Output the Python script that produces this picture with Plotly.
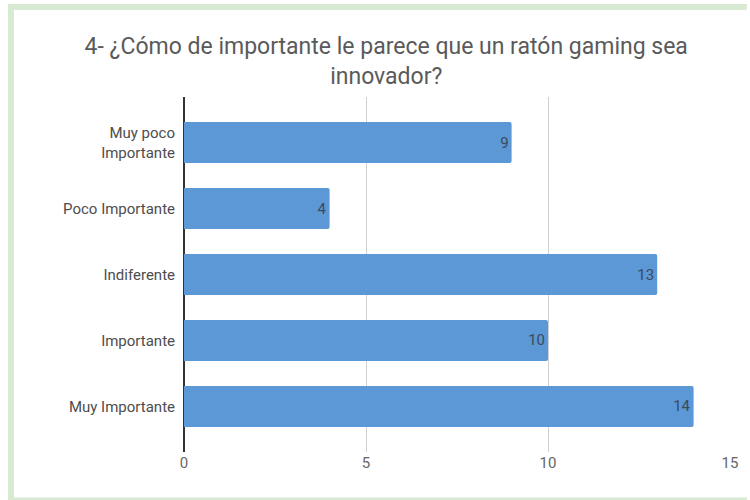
import plotly.graph_objects as go

categories = ["Muy poco<br>Importante", "Poco Importante", "Indiferente", "Importante", "Muy Importante"]
values = [9, 4, 13, 10, 14]
x_ticks = [0, 5, 10, 15]
title_text = "4- ¿Cómo de importante le parece que un ratón gaming sea<br>innovador?"

W, H = 750, 500
L, R, T, B = 184, 17, 97, 48
pw, ph = W - L - R, H - T - B

def px(x):
    return (x - L) / pw

def py(y):
    return (H - B - y) / ph

fig = go.Figure()
fig.add_trace(go.Bar(
    x=values, y=categories, orientation="h",
    marker=dict(color="#5b98d5", cornerradius=2, line=dict(width=0)),
    width=0.62,
    text=[str(v) for v in values], textposition="inside", insidetextanchor="end",
    insidetextfont=dict(family="Roboto", size=15, color="#3c4a5c"),
    cliponaxis=False, hoverinfo="skip",
))

green = "#d9ead3"
shapes = [
    dict(type="rect", xref="paper", yref="paper", x0=px(7), x1=px(13), y0=py(500), y1=py(4),
         fillcolor=green, line=dict(width=0), layer="below"),
    dict(type="rect", xref="paper", yref="paper", x0=px(7), x1=px(750), y0=py(10), y1=py(4),
         fillcolor=green, line=dict(width=0), layer="below"),
    dict(type="rect", xref="paper", yref="paper", x0=px(7), x1=px(750), y0=py(500), y1=py(497.5),
         fillcolor=green, line=dict(width=0), layer="below"),
]

fig.update_layout(
    width=W, height=H,
    margin=dict(l=L, r=R, t=T, b=B),
    paper_bgcolor="white", plot_bgcolor="white",
    font=dict(family="Roboto", size=15, color="#555555"),
    title=dict(text=title_text, x=0.515, xanchor="center", y=0.892, yanchor="middle",
               font=dict(family="Roboto", size=23, color="#5a5a5a")),
    showlegend=False,
    shapes=shapes,
)
fig.update_xaxes(range=[0, 15], tickvals=x_ticks, showgrid=True, gridcolor="#d0d0d0", gridwidth=1,
                 zeroline=True, zerolinecolor="#333333", zerolinewidth=1.5,
                 showline=False, ticks="", tickfont=dict(size=15, color="#666666"), fixedrange=True)
fig.update_yaxes(type="category", categoryorder="array", categoryarray=categories,
                 range=[len(categories) - 1 + 0.69, -0.69], showgrid=False, zeroline=False,
                 showline=False, ticks="", ticklabelstandoff=8,
                 tickfont=dict(size=15, color="#4d4d4d"))

fig.write_html("out.html")
